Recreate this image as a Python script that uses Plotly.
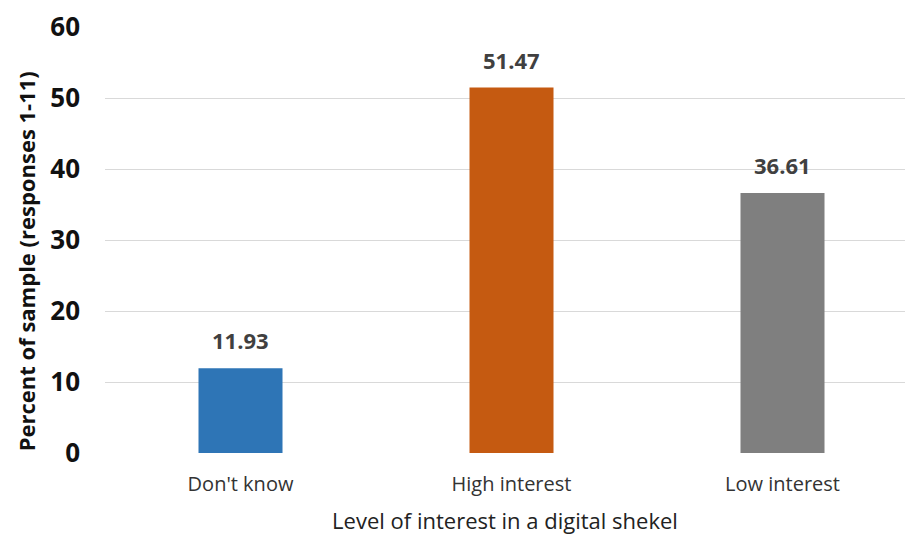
import plotly.graph_objects as go

categories = ["Don't know", "High interest", "Low interest"]
values = [11.93, 51.47, 36.61]
colors = ["#2E75B6", "#C55A11", "#7F7F7F"]
y_ticks = [0, 10, 20, 30, 40, 50, 60]

FONT = "'Open Sans', Lato, sans-serif"

fig = go.Figure()
fig.add_trace(go.Bar(
    x=categories,
    y=values,
    marker=dict(color=colors, line=dict(width=0)),
    width=0.31,
    hoverinfo="skip",
))

# value labels above each bar
for c, v in zip(categories, values):
    fig.add_annotation(
        x=c, y=v, text=f"<b>{v:.2f}</b>", showarrow=False,
        yanchor="bottom", yshift=11,
        font=dict(family=FONT, size=22, color="#404040"),
    )

# vertical axis title, placed as a rotated annotation
fig.add_annotation(
    xref="paper", yref="paper", x=0, y=0.45,
    xanchor="center", yanchor="middle", xshift=-79,
    text="<b>Percent of sample (responses 1-11)</b>", textangle=-90,
    showarrow=False,
    font=dict(family=FONT, size=22, color="#111111"),
)

fig.update_layout(
    width=905, height=535,
    margin=dict(l=105, r=0, t=27, b=82),
    paper_bgcolor="white", plot_bgcolor="white",
    showlegend=False,
    font=dict(family=FONT, color="#333333"),
    xaxis=dict(
        range=[-0.5, 2.452],
        showgrid=False, zeroline=False, showline=False,
        ticks="", ticklabelstandoff=17,
        tickfont=dict(family=FONT, size=20, color="#333333"),
        title=dict(text="Level of interest in a digital shekel",
                   font=dict(family=FONT, size=22, color="#222222"),
                   standoff=19),
    ),
    yaxis=dict(
        range=[0, 60], tickvals=y_ticks,
        showgrid=True, gridcolor="#D9D9D9", gridwidth=1.3,
        zeroline=False, showline=False, ticks="",
        ticklabelstandoff=24,
        tickfont=dict(family=FONT, size=26, color="#111111", weight="bold"),
    ),
)

fig.write_html("out.html")
